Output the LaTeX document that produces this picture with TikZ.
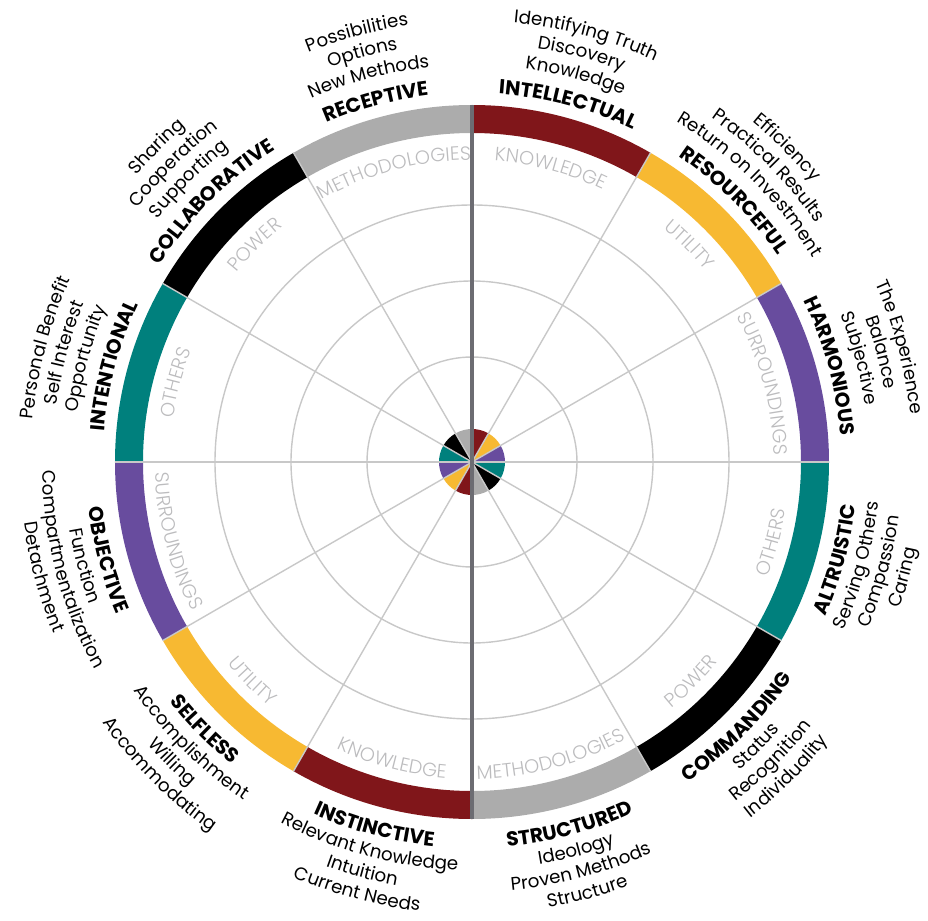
\documentclass[tikz,border=0pt]{standalone}
\usepackage{fontspec}
\setmainfont{Poppins}
\newfontfamily\lightfont{Poppins Light}
\usepackage{xcolor}
\usepackage{tikz}
\usetikzlibrary{decorations.text}

\definecolor{wheelred}{RGB}{128,22,26}
\definecolor{wheelgold}{RGB}{247,185,50}
\definecolor{wheelviolet}{RGB}{104,76,158}
\definecolor{wheelteal}{RGB}{0,128,125}
\definecolor{wheelgray}{RGB}{172,172,172}
\definecolor{gridgray}{RGB}{200,200,200}
\definecolor{themegray}{RGB}{188,188,190}
\definecolor{axisgray}{RGB}{108,108,114}

\newcommand{\namefont}{\fontsize{17.2}{20}\selectfont\bfseries}
\newcommand{\wordfont}{\fontsize{15.6}{18}\selectfont}
\newcommand{\themefont}{\lightfont\fontsize{16.4}{19}\selectfont\color{themegray}}

% text on an arc: angle, radius, 1 = clockwise / -1 = counter-clockwise, font, text
\newcommand{\arctext}[5]{%
  \path[decorate, decoration={text along path, text align=center,
      text/.expanded={|\noexpand#4|#5}}]
    ({#1+60*#3}:#2) arc[start angle={#1+60*#3}, end angle={#1-60*#3}, radius=#2];}

\begin{document}
\begin{tikzpicture}[x=0.03cm, y=0.03cm,
    gridline/.style={gridgray, line width=1.2pt}]
    \useasboundingbox (-472,-458) rectangle (456,462);

    % 1. Vong tron luoi
    \foreach \rad in {105,181,257}
        \draw[gridline] (0,0) circle[radius=\rad];

    % 2. Nua tren: chu doc theo chieu kim dong ho
    \foreach \ang/\col/\theme/\segname/\la/\lb/\lc in {
        75/wheelred/KNOWLEDGE/INTELLECTUAL/Identifying Truth/Discovery/Knowledge,
        45/wheelgold/UTILITY/RESOURCEFUL/Efficiency/Practical Results/Return on Investment,
        15/wheelviolet/SURROUNDINGS/HARMONIOUS/The Experience/Balance/Subjective,
        165/wheelteal/OTHERS/INTENTIONAL/Personal Benefit/Self Interest/Opportunity,
        135/black/POWER/COLLABORATIVE/Sharing/Cooperation/Supporting,
        105/wheelgray/METHODOLOGIES/RECEPTIVE/Possibilities/Options/New Methods}
    {
        \fill[\col] ({\ang-15}:329) arc[start angle=\ang-15, end angle=\ang+15, radius=329]
            -- ({\ang+15}:357) arc[start angle=\ang+15, end angle=\ang-15, radius=357] -- cycle;
        \fill[\col] (0,0) -- ({\ang-15}:33) arc[start angle=\ang-15, end angle=\ang+15, radius=33] -- cycle;
        \arctext{\ang}{302}{1}{\themefont}{\theme}
        \arctext{\ang}{369}{1}{\namefont}{\segname}
        \arctext{\ang}{397}{1}{\wordfont}{\lc}
        \arctext{\ang}{419}{1}{\wordfont}{\lb}
        \arctext{\ang}{441}{1}{\wordfont}{\la}
    }

    % 3. Nua duoi: chu doc nguoc chieu kim dong ho
    \foreach \ang/\col/\theme/\segname/\la/\lb/\lc in {
        -15/wheelteal/OTHERS/ALTRUISTIC/Serving Others/Compassion/Caring,
        -45/black/POWER/COMMANDING/Status/Recognition/Individuality,
        -75/wheelgray/METHODOLOGIES/STRUCTURED/Ideology/Proven Methods/Structure,
        -105/wheelred/KNOWLEDGE/INSTINCTIVE/Relevant Knowledge/Intuition/Current Needs,
        -135/wheelgold/UTILITY/SELFLESS/Accomplishment/Willing/Accommodating,
        -165/wheelviolet/SURROUNDINGS/OBJECTIVE/Function/Compartmentalization/Detachment}
    {
        \fill[\col] ({\ang-15}:329) arc[start angle=\ang-15, end angle=\ang+15, radius=329]
            -- ({\ang+15}:357) arc[start angle=\ang+15, end angle=\ang-15, radius=357] -- cycle;
        \fill[\col] (0,0) -- ({\ang-15}:33) arc[start angle=\ang-15, end angle=\ang+15, radius=33] -- cycle;
        \arctext{\ang}{317}{-1}{\themefont}{\theme}
        \arctext{\ang}{386}{-1}{\namefont}{\segname}
        \arctext{\ang}{408}{-1}{\wordfont}{\la}
        \arctext{\ang}{430}{-1}{\wordfont}{\lb}
        \arctext{\ang}{452}{-1}{\wordfont}{\lc}
    }

    % 4. Tia chia 12 phan
    \foreach \ang in {0,30,...,330}
        \draw[gridline] (0,0) -- (\ang:357);

    % 5. Truc doc
    \draw[axisgray, line width=2.6pt] (90:357) -- (-90:357);
\end{tikzpicture}
\end{document}
